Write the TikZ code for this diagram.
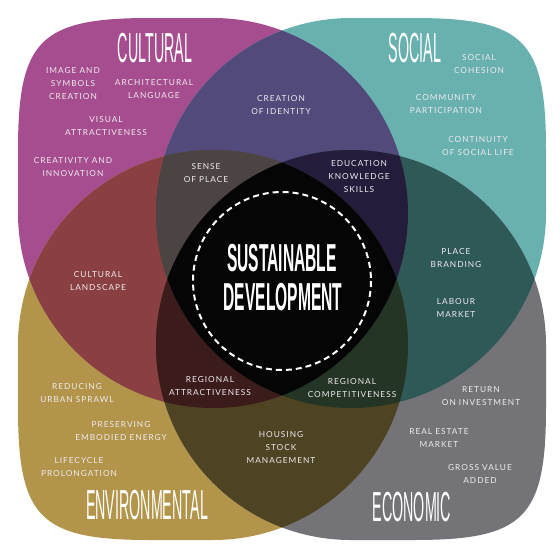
\documentclass[tikz,border=0pt]{standalone}
\usepackage{fontspec}
\setmainfont{Lato}
\newfontfamily\labfont[LetterSpace=12]{Lato}
\newfontfamily\ttlfont[FakeStretch=0.34]{Liberation Sans}
\newfontfamily\ctrfont[FakeStretch=0.40]{Liberation Sans Bold}
\definecolor{cul}{HTML}{A64D8F}
\definecolor{soc}{HTML}{68B1AF}
\definecolor{env}{HTML}{B2954A}
\definecolor{eco}{HTML}{747478}
\definecolor{cs}{HTML}{514A7A}
\definecolor{ce}{HTML}{8A4043}
\definecolor{so}{HTML}{2F5957}
\definecolor{eo}{HTML}{4E4323}
\definecolor{co}{HTML}{3A2A3A}
\definecolor{se}{HTML}{3A4A3A}
\definecolor{cse}{HTML}{4B4443}
\definecolor{cso}{HTML}{241C3A}
\definecolor{ceo}{HTML}{3C1B1B}
\definecolor{seo}{HTML}{243525}
\definecolor{allc}{HTML}{050505}
\definecolor{labc}{HTML}{EEEAEE}
\def\pC{(213,18) arc[start angle=-90, end angle=180, radius=195] -- (18,150) .. controls (18,40) and (40,18) .. (150,18) -- cycle}
\def\pS{(351,18) arc[start angle=270, end angle=0, radius=195] -- (546,150) .. controls (546,40) and (524,18) .. (414,18) -- cycle}
\def\pE{(213,540) arc[start angle=90, end angle=-180, radius=195] -- (18,408) .. controls (18,518) and (40,540) .. (150,540) -- cycle}
\def\pO{(351,540) arc[start angle=90, end angle=360, radius=195] -- (546,408) .. controls (546,518) and (524,540) .. (414,540) -- cycle}
\begin{document}
\begin{tikzpicture}[x=1pt,y=-1pt,
  lbl/.style={font=\labfont\fontsize{8.3}{13}\selectfont, text=labc, align=center, inner sep=0pt},
  ttl/.style={font=\ttlfont\fontsize{42}{42}\selectfont, text=white, inner sep=0pt},
  ctr/.style={font=\ctrfont\fontsize{39}{39}\selectfont, text=white, inner sep=0pt},
  dashring/.style={draw=white, line width=2pt, dash pattern=on 6pt off 4pt}]
\useasboundingbox (0,0) rectangle (560,560);
\fill[white] (0,0) rectangle (560,560);
% single shapes
\fill[cul] \pC;
\fill[soc] \pS;
\fill[env] \pE;
\fill[eco] \pO;
% pairs
\begin{scope}\clip \pC; \fill[cs] \pS; \end{scope}
\begin{scope}\clip \pC; \fill[ce] \pE; \end{scope}
\begin{scope}\clip \pC; \fill[co] \pO; \end{scope}
\begin{scope}\clip \pS; \fill[se] \pE; \end{scope}
\begin{scope}\clip \pS; \fill[so] \pO; \end{scope}
\begin{scope}\clip \pE; \fill[eo] \pO; \end{scope}
% triples
\begin{scope}\clip \pC; \clip \pS; \fill[cse] \pE; \end{scope}
\begin{scope}\clip \pC; \clip \pS; \fill[cso] \pO; \end{scope}
\begin{scope}\clip \pC; \clip \pE; \fill[ceo] \pO; \end{scope}
\begin{scope}\clip \pS; \clip \pE; \fill[seo] \pO; \end{scope}
% all four
\begin{scope}\clip \pC; \clip \pS; \clip \pE; \fill[allc] \pO; \end{scope}
\draw[dashring] (282,281) circle[radius=89];
% titles
\node[ttl] (tC) at (155,48) {CULTURAL};
\node[ttl] (tS) at (415,48) {SOCIAL};
\node[ttl] (tE) at (147,505) {ENVIRONMENTAL};
\node[ttl] (tO) at (412,507) {ECONOMIC};
\node[ctr] (sus) at (282,258) {SUSTAINABLE};
\node[ctr] (dev) at (283,297) {DEVELOPMENT};
% labels
\node[lbl] (img) at (73,84) {IMAGE AND\\SYMBOLS\\CREATION};
\node[lbl] (arch) at (154,89.5) {ARCHITECTURAL\\LANGUAGE};
\node[lbl] (vis) at (106,126.5) {VISUAL\\ATTRACTIVENESS};
\node[lbl] (cre) at (73,167.5) {CREATIVITY AND\\INNOVATION};
\node[lbl] (land) at (98,281.5) {CULTURAL\\LANDSCAPE};
\node[lbl] (ident) at (281,105) {CREATION\\OF IDENTITY};
\node[lbl] (sense) at (206,173.5) {SENSE\\OF PLACE};
\node[lbl] (edu) at (359,177) {EDUCATION\\KNOWLEDGE\\SKILLS};
\node[lbl] (coh) at (479,64.5) {SOCIAL\\COHESION};
\node[lbl] (comm) at (446,104.5) {COMMUNITY\\PARTICIPATION};
\node[lbl] (cont) at (478,146.5) {CONTINUITY\\OF SOCIAL LIFE};
\node[lbl] (brand) at (456,258.5) {PLACE\\BRANDING};
\node[lbl] (lab) at (456,308) {LABOUR\\MARKET};
\node[lbl] (ret) at (481,396.5) {RETURN\\ON INVESTMENT};
\node[lbl] (real) at (439,437.5) {REAL ESTATE\\MARKET};
\node[lbl] (gross) at (480,473.5) {GROSS VALUE\\ADDED};
\node[lbl] (comp) at (352,388) {REGIONAL\\COMPETITIVENESS};
\node[lbl] (spr) at (77,393.5) {REDUCING\\URBAN SPRAWL};
\node[lbl] (emb) at (121,431.5) {PRESERVING\\EMBODIED ENERGY};
\node[lbl] (life) at (79,467.5) {LIFECYCLE\\PROLONGATION};
\node[lbl] (attr) at (210,386.5) {REGIONAL\\ATTRACTIVENESS};
\node[lbl] (hous) at (281,448) {HOUSING\\STOCK\\MANAGEMENT};
\end{tikzpicture}
\end{document}
